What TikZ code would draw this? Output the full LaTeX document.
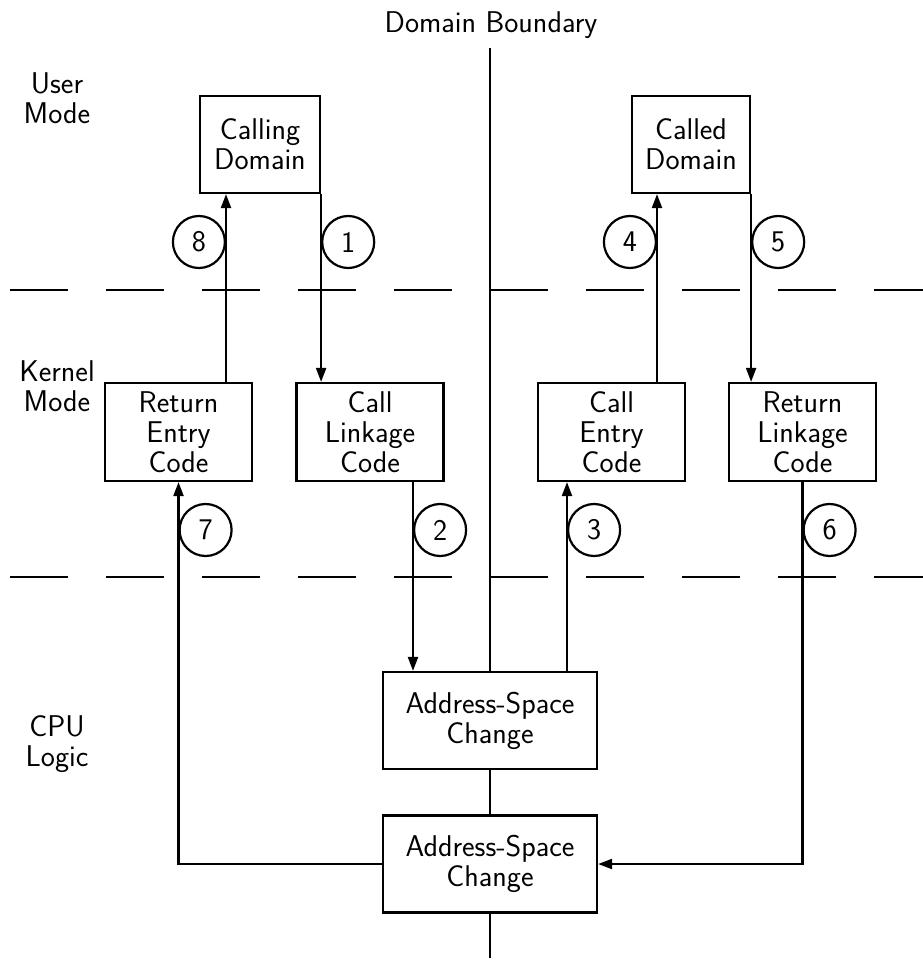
\documentclass[tikz,border=0pt]{standalone}
\usetikzlibrary{arrows.meta}
\begin{document}
\begin{tikzpicture}[x=1pt,y=-1pt,line width=2.2pt,
    font=\fontsize{30}{30}\sffamily,
    box/.style={draw,align=center,inner sep=0pt,minimum width=147pt,minimum height=98pt},
    num/.style={draw,circle,inner sep=0pt,minimum size=52pt},
    flow/.style={-{Triangle[length=14pt,width=10pt]}},
    dashline/.style={dash pattern=on 58pt off 38pt}]
    \useasboundingbox (0,0) rectangle (923,961);
    % Betriebsarten links
    \node[align=center] (user) at (57,98) {User\\Mode};
    \node[align=center] (kernel) at (57,386) {Kernel\\Mode};
    \node[align=center] (cpu) at (57,744) {CPU\\Logic};
    \node (boundary) at (491,25) {Domain Boundary};
    % Kaesten
    \node[box,minimum width=120pt,minimum height=97pt] (calling) at (260,144.5) {Calling\\Domain};
    \node[box,minimum width=118pt,minimum height=97pt] (called) at (691,144.5) {Called\\Domain};
    \node[box] (retentry) at (178.5,432) {Return\\Entry\\Code};
    \node[box] (calllink) at (370,432) {Call\\Linkage\\Code};
    \node[box] (callentry) at (611.5,432) {Call\\Entry\\Code};
    \node[box] (retlink) at (802.5,432) {Return\\Linkage\\Code};
    \node[box,minimum width=214pt,minimum height=97pt] (asca) at (490,720.5) {Address-Space\\Change};
    \node[box,minimum width=214pt,minimum height=97pt] (ascb) at (490,864) {Address-Space\\Change};
    % Trennlinien
    \draw[dashline] (10,290) -- (923,290);
    \draw[dashline] (10,577) -- (923,577);
    \coordinate (btop) at (490,48);
    \coordinate (bbot) at (490,958);
    \draw (btop) -- (asca.north);
    \draw (asca.south) -- (ascb.north);
    \draw (ascb.south) -- (bbot);
    % Aufrufe und Ruecksprung
    \draw[flow] (calling.south east) coordinate (p1) -- (p1 |- calllink.north);
    \draw[flow] ([xshift=43pt]calllink.south) coordinate (p2) -- (p2 |- asca.north);
    \draw[flow] ([xshift=77pt]asca.north) coordinate (p3) -- (p3 |- callentry.south);
    \draw[flow] ([xshift=45.5pt]callentry.north) coordinate (p4) -- (p4 |- called.south);
    \draw[flow] (called.south east) coordinate (p5) -- (p5 |- retlink.north);
    \draw[flow] (retlink.south) coordinate (p6) |- (ascb.east);
    \draw[flow] (ascb.west) -| (retentry.south) coordinate (p7);
    \draw[flow] ([xshift=47.5pt]retentry.north) coordinate (p8) -- (p8 |- calling.south);
    % Nummern
    \node[num,anchor=west] (n1) at (p1 |- 0,242) {1};
    \node[num,anchor=west] (n2) at (p2 |- 0,530) {2};
    \node[num,anchor=west] (n3) at (p3 |- 0,530) {3};
    \node[num,anchor=east] (n4) at (p4 |- 0,242) {4};
    \node[num,anchor=west] (n5) at (p5 |- 0,242) {5};
    \node[num,anchor=west] (n6) at (p6 |- 0,530) {6};
    \node[num,anchor=west] (n7) at (p7 |- 0,530) {7};
    \node[num,anchor=east] (n8) at (p8 |- 0,242) {8};
\end{tikzpicture}
\end{document}
